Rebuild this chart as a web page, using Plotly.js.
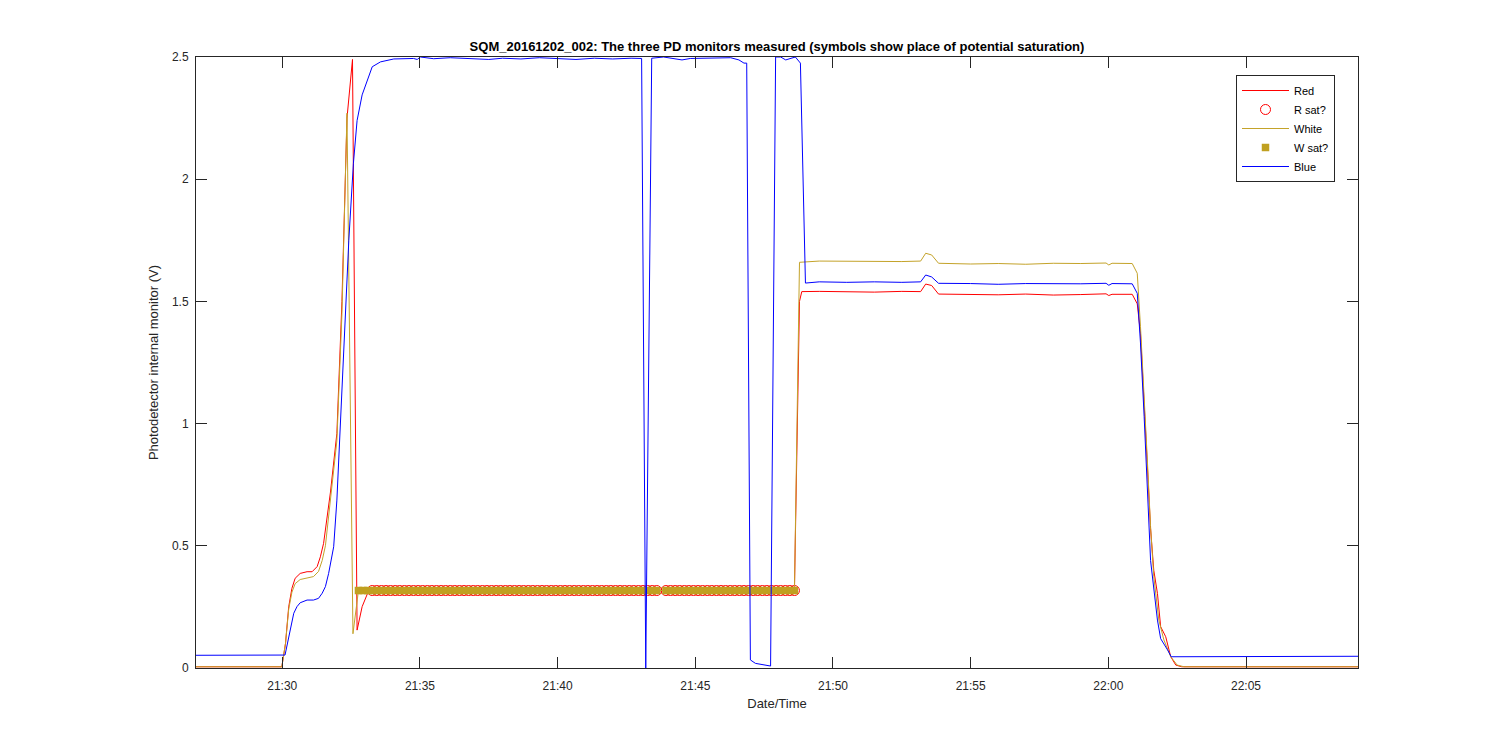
<!DOCTYPE html>
<html>
<head>
<meta charset="utf-8">
<script src="https://cdn.plot.ly/plotly-3.0.1.min.js"></script>
<style>html,body{margin:0;padding:0;background:#fff;}#chart{width:1500px;height:750px;}</style>
</head>
<body>
<div id="chart"></div>
<script>
const DAY = '2016-12-02 ';

// ---- Red PD monitor ----
const redTimes = ['21:26:50','21:29:59','21:30:07','21:30:14','21:30:21','21:30:28','21:30:39','21:30:54','21:31:05','21:31:16','21:31:23','21:31:30','21:31:45','21:31:59','21:32:10','21:32:21','21:32:33','21:32:43','21:32:54','21:33:06','21:33:16','21:48:36','21:48:47','21:48:52','21:49:30','21:50:30','21:51:30','21:52:30','21:53:11','21:53:22','21:53:35','21:53:50','21:55:00','21:56:00','21:57:00','21:58:00','21:59:00','21:59:55','22:00:01','22:00:08','22:00:52','22:01:03','22:01:10','22:01:18','22:01:25','22:01:32','22:01:39','22:01:47','22:01:54','22:02:05','22:02:16','22:02:27','22:02:40','22:09:10'];
const redValues = [0.005,0.005,0.10,0.25,0.326,0.367,0.387,0.394,0.394,0.415,0.455,0.51,0.72,0.96,1.50,2.25,2.49,0.155,0.251,0.306,0.317,0.317,1.50,1.540,1.541,1.540,1.538,1.541,1.540,1.571,1.565,1.530,1.528,1.527,1.530,1.526,1.528,1.531,1.524,1.529,1.529,1.49,1.37,1.10,0.83,0.57,0.40,0.305,0.169,0.128,0.046,0.012,0.005,0.005];

// ---- White PD monitor ----
const whiteTimes = ['21:26:50','21:29:59','21:30:07','21:30:14','21:30:21','21:30:28','21:30:39','21:30:54','21:31:08','21:31:19','21:31:27','21:31:34','21:31:45','21:31:59','21:32:10','21:32:21','21:32:34','21:32:46','21:48:36','21:48:47','21:49:30','21:50:30','21:51:30','21:52:30','21:53:11','21:53:22','21:53:35','21:53:50','21:55:00','21:56:00','21:57:00','21:58:00','21:59:00','21:59:55','22:00:01','22:00:08','22:00:52','22:01:03','22:01:10','22:01:18','22:01:25','22:01:32','22:01:39','22:01:50','22:02:01','22:02:16','22:02:30','22:02:45','22:09:10'];
const whiteValues = [0.005,0.005,0.10,0.24,0.31,0.345,0.362,0.367,0.374,0.395,0.44,0.50,0.68,0.93,1.45,2.27,0.14,0.317,0.317,1.660,1.665,1.664,1.666,1.663,1.665,1.697,1.690,1.656,1.653,1.655,1.652,1.656,1.655,1.657,1.649,1.656,1.655,1.615,1.397,1.124,0.851,0.578,0.374,0.196,0.115,0.046,0.012,0.005,0.005];

// ---- Blue PD monitor ----
const blueTimes = ['21:26:50','21:30:06','21:30:25','21:30:32','21:30:39','21:30:54','21:31:08','21:31:19','21:31:27','21:31:34','21:31:41','21:31:46','21:31:52','21:31:59','21:32:06','21:32:14','21:32:25','21:32:35','21:32:43','21:32:54','21:33:16','21:33:34','21:34:03','21:34:46','21:34:54','21:35:01','21:35:30','21:36:06','21:37:00','21:37:30','21:38:00','21:38:40','21:39:20','21:40:00','21:40:40','21:41:20','21:42:00','21:42:40','21:43:03','21:43:12','21:43:25','21:43:51','21:44:13','21:44:31','21:44:49','21:45:18','21:45:48','21:46:17','21:46:35','21:46:46','21:46:52','21:47:00','21:47:11','21:47:44','21:47:55','21:48:06','21:48:17','21:48:31','21:48:38','21:48:49','21:49:00','21:49:30','21:50:30','21:51:30','21:52:30','21:53:11','21:53:22','21:53:35','21:53:50','21:55:00','21:56:00','21:57:00','21:58:00','21:59:00','21:59:55','22:00:01','22:00:08','22:00:52','22:01:03','22:01:10','22:01:18','22:01:25','22:01:32','22:01:47','22:01:54','22:02:09','22:02:17','22:09:10'];
const blueValues = [0.052,0.053,0.224,0.251,0.267,0.278,0.278,0.285,0.306,0.333,0.387,0.442,0.496,0.687,0.96,1.30,1.75,2.065,2.24,2.345,2.46,2.48,2.492,2.494,2.490,2.500,2.493,2.497,2.494,2.490,2.495,2.492,2.497,2.493,2.490,2.495,2.492,2.495,2.494,0.0,2.495,2.500,2.494,2.488,2.494,2.494,2.494,2.497,2.488,2.475,2.475,0.033,0.019,0.008,2.500,2.500,2.488,2.497,2.500,2.475,1.575,1.580,1.578,1.580,1.578,1.580,1.608,1.600,1.574,1.573,1.570,1.573,1.571,1.572,1.574,1.566,1.573,1.572,1.533,1.33,1.03,0.73,0.44,0.196,0.12,0.074,0.046,0.048];

// ---- Samples flagged as potential saturation ----
const wSatTimes = [
'21:32:46','21:32:56',
'21:33:06','21:33:16','21:33:26','21:33:36','21:33:46','21:33:56',
'21:34:06','21:34:16','21:34:26','21:34:36','21:34:46','21:34:56',
'21:35:06','21:35:16','21:35:26','21:35:36','21:35:46','21:35:56',
'21:36:06','21:36:16','21:36:26','21:36:36','21:36:46','21:36:56',
'21:37:06','21:37:16','21:37:26','21:37:36','21:37:46','21:37:56',
'21:38:06','21:38:16','21:38:26','21:38:36','21:38:46','21:38:56',
'21:39:06','21:39:16','21:39:26','21:39:36','21:39:46','21:39:56',
'21:40:06','21:40:16','21:40:26','21:40:36','21:40:46','21:40:56',
'21:41:06','21:41:16','21:41:26','21:41:36','21:41:46','21:41:56',
'21:42:06','21:42:16','21:42:26','21:42:36','21:42:46','21:42:56',
'21:43:06','21:43:16','21:43:26','21:43:36','21:43:56',
'21:44:06','21:44:16','21:44:26','21:44:36','21:44:46','21:44:56',
'21:45:06','21:45:16','21:45:26','21:45:36','21:45:46','21:45:56',
'21:46:06','21:46:16','21:46:26','21:46:36','21:46:46','21:46:56',
'21:47:06','21:47:16','21:47:26','21:47:36','21:47:46','21:47:56',
'21:48:06','21:48:16','21:48:26','21:48:36'];
const rSatTimes = wSatTimes.filter(s => s >= '21:33:16');
const satLevel = 0.317;
const wSatValues = wSatTimes.map(() => satLevel);
const rSatValues = rSatTimes.map(() => satLevel);

// ---- Axis ----
const xRange = ['21:26:52','22:09:04'];
const yTicks = [0, 0.5, 1, 1.5, 2, 2.5];
const yTickText = ['0','0.5','1','1.5','2','2.5'];

const toDT = arr => arr.map(s => DAY + s);

const RED = '#FF0000', WHITE = '#C4A32A', BLUE = '#0000FF', AX = '#262626';
const FONT = 'Liberation Sans, Arial, Helvetica, sans-serif';

const traces = [
  {x: toDT(redTimes), y: redValues, name: 'Red', type: 'scatter', mode: 'lines', line: {color: RED, width: 1}},
  {x: toDT(rSatTimes), y: rSatValues, name: 'R sat?', type: 'scatter', mode: 'markers',
   marker: {symbol: 'circle-open', size: 10, color: RED, line: {width: 1, color: RED}}},
  {x: toDT(whiteTimes), y: whiteValues, name: 'White', type: 'scatter', mode: 'lines', line: {color: WHITE, width: 1}},
  {x: toDT(wSatTimes), y: wSatValues, name: 'W sat?', type: 'scatter', mode: 'markers',
   marker: {symbol: 'square', size: 7.5, color: '#C0A020', line: {width: 0}}},
  {x: toDT(blueTimes), y: blueValues, name: 'Blue', type: 'scatter', mode: 'lines', line: {color: BLUE, width: 1}}
];

const layout = {
  width: 1500, height: 750,
  paper_bgcolor: '#FFFFFF', plot_bgcolor: '#FFFFFF',
  margin: {l: 196, r: 142, t: 57, b: 82},
  font: {family: FONT, size: 11, color: AX},
  title: {
    text: 'SQM_20161202_002: The three PD monitors measured (symbols show place of potential saturation)',
    font: {family: FONT, size: 13, color: '#000', weight: 'bold'},
    x: 0.5, xref: 'paper', y: 1 - 46/750, yref: 'container', yanchor: 'middle'
  },
  xaxis: {
    type: 'date', range: toDT(xRange),
    tickformat: '%H:%M', dtick: 300000, tick0: DAY + '21:30:00',
    ticks: 'inside', ticklen: 11, tickwidth: 1, tickcolor: AX,
    showline: true, linecolor: AX, linewidth: 1, mirror: 'ticks',
    showgrid: false, zeroline: false, ticklabelstandoff: 7,
    tickfont: {family: FONT, size: 12, color: AX},
    title: {text: 'Date/Time', font: {family: FONT, size: 13, color: AX}, standoff: 6}
  },
  yaxis: {
    range: [0, 2.5], tickvals: yTicks, ticktext: yTickText,
    ticks: 'inside', ticklen: 11, tickwidth: 1, tickcolor: AX,
    showline: true, linecolor: AX, linewidth: 1, mirror: 'ticks',
    showgrid: false, zeroline: false, ticklabelstandoff: 4,
    tickfont: {family: FONT, size: 12, color: AX},
    title: {text: 'Photodetector internal monitor (V)', font: {family: FONT, size: 13, color: AX}, standoff: 10}
  },
  showlegend: true,
  legend: {
    x: (1236 - 196) / 1162, y: 1 - (75 - 57) / 611, xanchor: 'left', yanchor: 'top',
    bgcolor: '#FFFFFF', bordercolor: AX, borderwidth: 1, itemwidth: 47,
    font: {family: FONT, size: 11, color: '#000'}, tracegroupgap: 0
  }
};

Plotly.newPlot('chart', traces, layout, {displayModeBar: false, responsive: false});
</script>
</body>
</html>
